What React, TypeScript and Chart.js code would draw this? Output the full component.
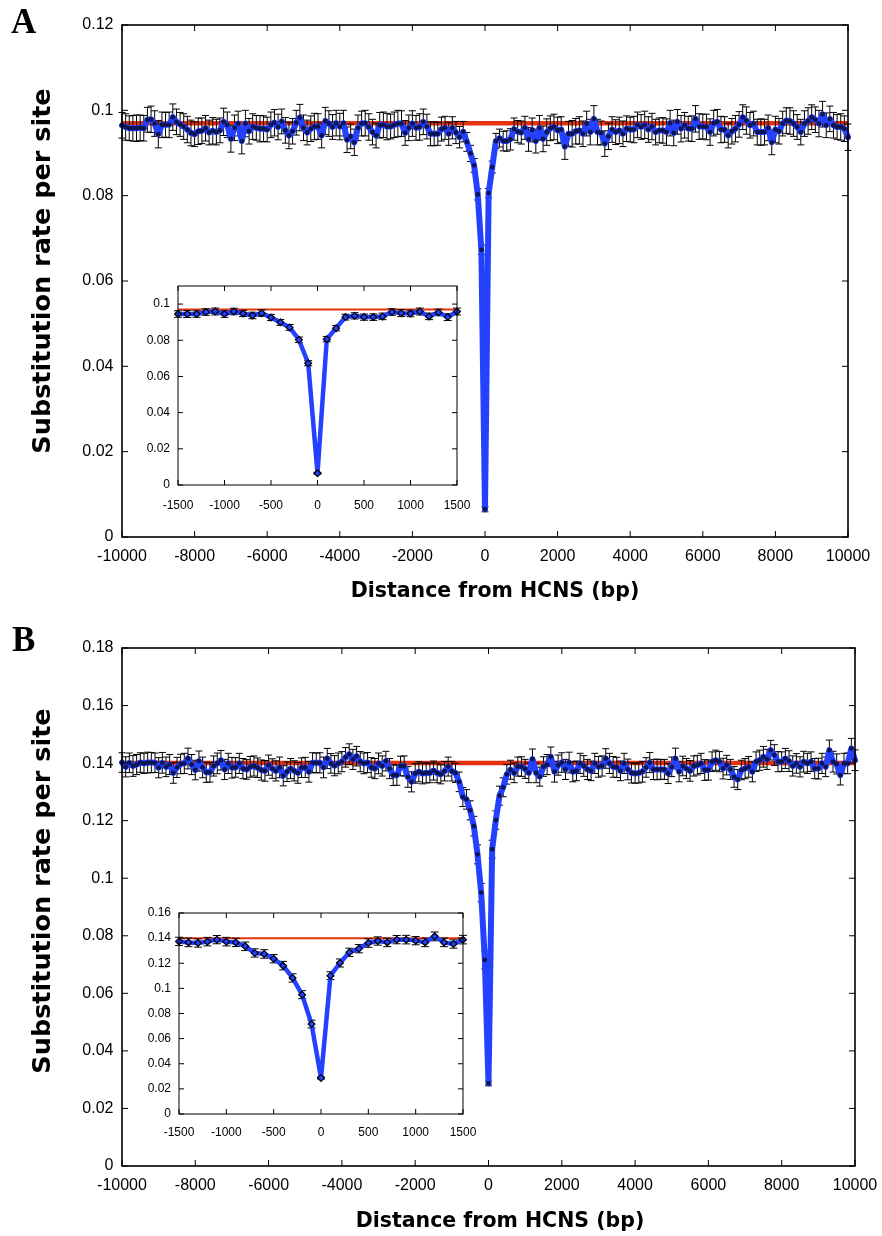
import React, { useEffect, useRef } from "react";
import { Chart, registerables } from "chart.js";

Chart.register(...registerables);

// ---------- DATA ----------
// distance from HCNS (bp), 100 bp windows
const distance: number[] = Array.from({ length: 201 }, (_, i) => -10000 + i * 100);

// Panel A: substitution rate per site
const rateA: number[] = [
  0.0965, 0.0961, 0.0958, 0.0958, 0.0958, 0.0959, 0.0958, 0.0978, 0.0979, 0.0969,
  0.0944, 0.0966, 0.0966, 0.0966, 0.0984, 0.0973, 0.0967, 0.0962, 0.0955, 0.0947,
  0.0944, 0.0951, 0.0952, 0.0958, 0.0948, 0.0952, 0.0949, 0.0953, 0.0973, 0.0966,
  0.0933, 0.0959, 0.0969, 0.0928, 0.0969, 0.0951, 0.0962, 0.0959, 0.0957, 0.0957,
  0.0955, 0.0966, 0.0971, 0.0961, 0.0974, 0.0953, 0.0941, 0.0951, 0.0971, 0.0983,
  0.0959, 0.0948, 0.0957, 0.0962, 0.0962, 0.0941, 0.0975, 0.0969, 0.0961, 0.0970,
  0.0962, 0.0970, 0.0931, 0.0939, 0.0925, 0.0959, 0.0969, 0.0970, 0.0961, 0.0949,
  0.0941, 0.0965, 0.0966, 0.0962, 0.0962, 0.0966, 0.0969, 0.0969, 0.0947, 0.0959,
  0.0969, 0.0959, 0.0961, 0.0973, 0.0962,
  0.0945, 0.0945, 0.0945, 0.0956, 0.0959, 0.0945, 0.0959, 0.0948, 0.0937, 0.0950,
  0.0926, 0.0899, 0.0871, 0.0803, 0.0673, 0.0065, 0.0806, 0.0867, 0.0928, 0.0935,
  0.0928, 0.0928, 0.0932, 0.0956, 0.0950, 0.0948, 0.0959, 0.0932, 0.0954, 0.0928,
  0.0959,
  0.0933, 0.0949, 0.0958, 0.0961, 0.0953, 0.0955, 0.0915, 0.0945, 0.0945, 0.0951,
  0.0953, 0.0945, 0.0969, 0.0949, 0.0980, 0.0949, 0.0947, 0.0922, 0.0939, 0.0955,
  0.0949, 0.0953, 0.0945, 0.0957, 0.0955, 0.0955, 0.0966, 0.0961, 0.0966, 0.0955,
  0.0962, 0.0949, 0.0953, 0.0953, 0.0949, 0.0970, 0.0947, 0.0973, 0.0957, 0.0965,
  0.0957, 0.0957, 0.0980, 0.0962, 0.0962, 0.0961, 0.0949, 0.0970, 0.0973, 0.0955,
  0.0955, 0.0941, 0.0951, 0.0957, 0.0967, 0.0984, 0.0976, 0.0965, 0.0969, 0.0949,
  0.0949, 0.0949, 0.0959, 0.0925, 0.0955, 0.0951, 0.0969, 0.0976, 0.0975, 0.0969,
  0.0961, 0.0949, 0.0969, 0.0975, 0.0984, 0.0978, 0.0969, 0.0991, 0.0965, 0.0980,
  0.0965, 0.0961, 0.0961, 0.0957, 0.0937,
];

const errA: number[] = [
  0.0030, 0.0031, 0.0029, 0.0030, 0.0031, 0.0030, 0.0030, 0.0029, 0.0031, 0.0030,
  0.0032, 0.0030, 0.0029, 0.0030, 0.0031, 0.0030, 0.0028, 0.0030, 0.0031, 0.0030,
  0.0029, 0.0031, 0.0030, 0.0030, 0.0029, 0.0031, 0.0030, 0.0029, 0.0032, 0.0030,
  0.0031, 0.0030, 0.0029, 0.0030, 0.0031, 0.0030, 0.0030, 0.0029, 0.0031, 0.0030,
  0.0029, 0.0030, 0.0031, 0.0030, 0.0029, 0.0030, 0.0031, 0.0030, 0.0029, 0.0031,
  0.0030, 0.0029, 0.0030, 0.0031, 0.0030, 0.0029, 0.0032, 0.0030, 0.0029, 0.0030,
  0.0031, 0.0030, 0.0030, 0.0029, 0.0031, 0.0030, 0.0029, 0.0030, 0.0031, 0.0030,
  0.0029, 0.0030, 0.0030, 0.0031, 0.0029, 0.0030, 0.0031, 0.0030, 0.0029, 0.0030,
  0.0030, 0.0029, 0.0031, 0.0030, 0.0029,
  0.0028, 0.0028, 0.0027, 0.0028, 0.0027, 0.0027, 0.0026, 0.0026, 0.0025, 0.0024,
  0.0022, 0.0019, 0.0016, 0.0013, 0.0011, 0.0006, 0.0011, 0.0014, 0.0018, 0.0021,
  0.0023, 0.0024, 0.0025, 0.0026, 0.0026, 0.0027, 0.0027, 0.0028, 0.0028, 0.0028,
  0.0029,
  0.0030, 0.0031, 0.0029, 0.0030, 0.0031, 0.0030, 0.0030, 0.0029, 0.0031, 0.0030,
  0.0032, 0.0030, 0.0029, 0.0030, 0.0031, 0.0030, 0.0028, 0.0030, 0.0031, 0.0030,
  0.0029, 0.0031, 0.0030, 0.0030, 0.0029, 0.0031, 0.0030, 0.0029, 0.0032, 0.0030,
  0.0031, 0.0030, 0.0029, 0.0030, 0.0031, 0.0030, 0.0030, 0.0029, 0.0031, 0.0030,
  0.0029, 0.0030, 0.0031, 0.0030, 0.0029, 0.0030, 0.0031, 0.0030, 0.0029, 0.0031,
  0.0030, 0.0029, 0.0030, 0.0031, 0.0030, 0.0029, 0.0032, 0.0030, 0.0029, 0.0030,
  0.0031, 0.0030, 0.0030, 0.0029, 0.0031, 0.0030, 0.0029, 0.0030, 0.0031, 0.0030,
  0.0029, 0.0030, 0.0030, 0.0031, 0.0029, 0.0030, 0.0031, 0.0030, 0.0029, 0.0030,
  0.0030, 0.0029, 0.0031, 0.0030, 0.0031,
];

// inset A error bars (-1500 .. 1500)
const errInsetA: number[] = [
  0.0018, 0.0019, 0.0018, 0.0018, 0.0019, 0.0018, 0.0018, 0.0017, 0.0018, 0.0018,
  0.0017, 0.0016, 0.0016, 0.0015, 0.0014, 0.0005, 0.0014, 0.0015, 0.0016, 0.0017,
  0.0017, 0.0018, 0.0018, 0.0018, 0.0019, 0.0018, 0.0019, 0.0018, 0.0018, 0.0019,
  0.0019,
];

const baselineA = 0.097;

// Panel B
const rateB: number[] = [
  0.1402, 0.1387, 0.1401, 0.1390, 0.1395, 0.1402, 0.1399, 0.1402, 0.1402, 0.1401,
  0.1384, 0.1401, 0.1387, 0.1395, 0.1366, 0.1385, 0.1397, 0.1399, 0.1416, 0.1395,
  0.1376, 0.1407, 0.1385, 0.1368, 0.1368, 0.1390, 0.1399, 0.1410, 0.1378, 0.1399,
  0.1384, 0.1385, 0.1399, 0.1381, 0.1378, 0.1387, 0.1390, 0.1384, 0.1376, 0.1373,
  0.1393, 0.1381, 0.1373, 0.1385, 0.1356, 0.1370, 0.1381, 0.1373, 0.1366, 0.1384,
  0.1385, 0.1370, 0.1401, 0.1401, 0.1401, 0.1385, 0.1416, 0.1399, 0.1391, 0.1399,
  0.1405, 0.1420, 0.1431, 0.1413, 0.1424, 0.1405, 0.1399, 0.1402, 0.1385, 0.1381,
  0.1399, 0.1390, 0.1407, 0.1381, 0.1358, 0.1358, 0.1390, 0.1390, 0.1352, 0.1335,
  0.1364, 0.1370, 0.1364, 0.1366, 0.1366,
  0.1374, 0.1366, 0.1361, 0.1372, 0.1388, 0.1372, 0.1366, 0.1335, 0.1282, 0.1274,
  0.1236, 0.1181, 0.1083, 0.0950, 0.0716, 0.0287, 0.1101, 0.1202, 0.1287, 0.1316,
  0.1361, 0.1377, 0.1366, 0.1388, 0.1388, 0.1380, 0.1366, 0.1414, 0.1366, 0.1353,
  0.1388,
  0.1395, 0.1422, 0.1370, 0.1393, 0.1402, 0.1378, 0.1402, 0.1370, 0.1373, 0.1399,
  0.1390, 0.1378, 0.1373, 0.1399, 0.1387, 0.1390, 0.1416, 0.1399, 0.1387, 0.1385,
  0.1373, 0.1399, 0.1378, 0.1366, 0.1364, 0.1366, 0.1370, 0.1385, 0.1402, 0.1378,
  0.1378, 0.1378, 0.1378, 0.1364, 0.1387, 0.1416, 0.1370, 0.1390, 0.1381, 0.1373,
  0.1390, 0.1393, 0.1399, 0.1376, 0.1376, 0.1405, 0.1410, 0.1405, 0.1381, 0.1393,
  0.1378, 0.1352, 0.1343, 0.1376, 0.1381, 0.1387, 0.1370, 0.1405, 0.1410, 0.1422,
  0.1413, 0.1445, 0.1428, 0.1405, 0.1405, 0.1416, 0.1407, 0.1390, 0.1399, 0.1387,
  0.1405, 0.1399, 0.1405, 0.1381, 0.1381, 0.1399, 0.1387, 0.1445, 0.1405, 0.1397,
  0.1358, 0.1399, 0.1399, 0.1451, 0.1410,
];

const errB: number[] = [
  0.0034, 0.0035, 0.0034, 0.0036, 0.0035, 0.0034, 0.0035, 0.0036, 0.0035, 0.0034,
  0.0035, 0.0036, 0.0034, 0.0035, 0.0036, 0.0035, 0.0034, 0.0035, 0.0036, 0.0035,
  0.0034, 0.0035, 0.0036, 0.0035, 0.0034, 0.0035, 0.0036, 0.0034, 0.0035, 0.0035,
  0.0036, 0.0034, 0.0035, 0.0035, 0.0034, 0.0036, 0.0035, 0.0034, 0.0035, 0.0036,
  0.0035, 0.0034, 0.0035, 0.0036, 0.0035, 0.0034, 0.0035, 0.0035, 0.0036, 0.0034,
  0.0035, 0.0036, 0.0035, 0.0034, 0.0035, 0.0036, 0.0035, 0.0034, 0.0035, 0.0036,
  0.0035, 0.0034, 0.0036, 0.0035, 0.0034, 0.0035, 0.0036, 0.0035, 0.0034, 0.0035,
  0.0036, 0.0035, 0.0034, 0.0035, 0.0036, 0.0035, 0.0034, 0.0035, 0.0036, 0.0035,
  0.0034, 0.0035, 0.0036, 0.0035, 0.0034,
  0.0033, 0.0034, 0.0033, 0.0034, 0.0033, 0.0034, 0.0033, 0.0034, 0.0033, 0.0034,
  0.0033, 0.0034, 0.0033, 0.0032, 0.0031, 0.0008, 0.0031, 0.0032, 0.0033, 0.0033,
  0.0034, 0.0033, 0.0034, 0.0033, 0.0034, 0.0033, 0.0034, 0.0035, 0.0034, 0.0033,
  0.0034,
  0.0035, 0.0034, 0.0036, 0.0035, 0.0034, 0.0035, 0.0036, 0.0035, 0.0034, 0.0035,
  0.0036, 0.0035, 0.0034, 0.0035, 0.0036, 0.0035, 0.0034, 0.0035, 0.0036, 0.0035,
  0.0034, 0.0035, 0.0036, 0.0035, 0.0034, 0.0035, 0.0036, 0.0034, 0.0035, 0.0035,
  0.0036, 0.0034, 0.0035, 0.0035, 0.0034, 0.0036, 0.0035, 0.0034, 0.0035, 0.0036,
  0.0035, 0.0034, 0.0035, 0.0036, 0.0035, 0.0034, 0.0035, 0.0035, 0.0036, 0.0034,
  0.0035, 0.0036, 0.0035, 0.0034, 0.0035, 0.0036, 0.0035, 0.0034, 0.0035, 0.0036,
  0.0035, 0.0034, 0.0036, 0.0035, 0.0034, 0.0035, 0.0036, 0.0035, 0.0034, 0.0035,
  0.0036, 0.0035, 0.0034, 0.0035, 0.0036, 0.0035, 0.0034, 0.0035, 0.0036, 0.0035,
  0.0034, 0.0035, 0.0036, 0.0035, 0.0036,
];

const baselineB = 0.14;

// inset window: -1500 .. 1500 (indices 85..115)
const insetStart = 85;
const insetEnd = 116;

const xTitle = "Distance from HCNS (bp)";
const yTitle = "Substitution rate per site";

// ---------- STYLE ----------
const BLUE = "#2441ff";
const RED = "#e4320e";
const DOT = "#0d1650";
const TICK_FONT = "'Liberation Sans', Arial, sans-serif";
const TITLE_FONT = "'DejaVu Sans', Verdana, sans-serif";

// ---------- PLUGINS ----------
const errorBarPlugin = {
  id: "errorBars",
  beforeDatasetDraw(chart: any, args: any, opts: any) {
    const ds = chart.data.datasets[args.index];
    if (!ds.errors) return;
    const { ctx, scales } = chart;
    const cap = opts.cap ?? 3.5;
    ctx.save();
    ctx.strokeStyle = "#000";
    ctx.lineWidth = opts.lineWidth ?? 1;
    ctx.beginPath();
    ds.data.forEach((pt: any, i: number) => {
      const e = ds.errors[i];
      const px = scales.x.getPixelForValue(pt.x);
      const top = scales.y.getPixelForValue(pt.y + e);
      const bot = scales.y.getPixelForValue(pt.y - e);
      ctx.moveTo(px, top);
      ctx.lineTo(px, bot);
      ctx.moveTo(px - cap, top);
      ctx.lineTo(px + cap, top);
      ctx.moveTo(px - cap, bot);
      ctx.lineTo(px + cap, bot);
    });
    ctx.stroke();
    ctx.restore();
  },
};

const framePlugin = {
  id: "frame",
  afterDraw(chart: any, _args: any, opts: any) {
    const { ctx, chartArea: a, scales } = chart;
    const len = opts.tickLen ?? 6;
    ctx.save();
    ctx.strokeStyle = "#000";
    ctx.lineWidth = opts.lineWidth ?? 1.5;
    ctx.strokeRect(a.left, a.top, a.right - a.left, a.bottom - a.top);
    ctx.lineWidth = opts.tickWidth ?? 1;
    ctx.beginPath();
    for (const t of scales.x.ticks) {
      const px = scales.x.getPixelForValue(t.value);
      ctx.moveTo(px, a.bottom);
      ctx.lineTo(px, a.bottom - len);
      ctx.moveTo(px, a.top);
      ctx.lineTo(px, a.top + len);
    }
    for (const t of scales.y.ticks) {
      const py = scales.y.getPixelForValue(t.value);
      ctx.moveTo(a.left, py);
      ctx.lineTo(a.left + len, py);
      ctx.moveTo(a.right, py);
      ctx.lineTo(a.right - len, py);
    }
    ctx.stroke();
    ctx.restore();
  },
};

type PlotSpec = {
  xs: number[];
  ys: number[];
  errs: number[];
  baseline: number;
  xMin: number;
  xMax: number;
  xStep: number;
  yMax: number;
  yStep: number;
  inset: boolean;
  pad: { top: number; right: number };
  yWidth: number;
  xHeight: number;
  xPad: number;
  yPad: number;
};

function buildConfig(s: PlotSpec): any {
  const fontSize = s.inset ? 12 : 16;
  return {
    type: "line",
    data: {
      datasets: [
        {
          label: "rate",
          data: s.xs.map((x, i) => ({ x, y: s.ys[i] })),
          errors: s.errs,
          borderColor: BLUE,
          borderWidth: s.inset ? 4.5 : 6,
          borderJoinStyle: "round",
          borderCapStyle: "round",
          tension: 0,
          pointStyle: s.inset ? "rectRot" : "circle",
          pointRadius: s.inset ? 3.4 : 2.4,
          pointBackgroundColor: s.inset ? BLUE : DOT,
          pointBorderColor: s.inset ? "#000" : DOT,
          pointBorderWidth: s.inset ? 1.2 : 0,
          order: 1,
          clip: false,
        },
        {
          label: "mean",
          data: [
            { x: s.xMin, y: s.baseline },
            { x: s.xMax, y: s.baseline },
          ],
          borderColor: RED,
          borderWidth: s.inset ? 2 : 4.5,
          pointRadius: 0,
          order: 2,
        },
      ],
    },
    options: {
      responsive: false,
      animation: false,
      events: [],
      layout: { padding: { left: 0, top: s.pad.top, right: s.pad.right, bottom: 0 } },
      plugins: {
        legend: { display: false },
        tooltip: { enabled: false },
        errorBars: { cap: s.inset ? 4 : 3.5, lineWidth: 1 },
        frame: { tickLen: s.inset ? 5 : 6, lineWidth: s.inset ? 1 : 1.6, tickWidth: 1 },
      },
      scales: {
        x: {
          type: "linear",
          min: s.xMin,
          max: s.xMax,
          grid: { display: false, drawTicks: false },
          border: { display: false },
          afterFit: (scale: any) => {
            scale.height = s.xHeight;
            scale.paddingLeft = 0;
            scale.paddingRight = 0;
          },
          ticks: {
            stepSize: s.xStep,
            includeBounds: false,
            autoSkip: false,
            maxRotation: 0,
            padding: s.xPad,
            color: "#000",
            font: { family: TICK_FONT, size: fontSize },
            callback: (v: any) => String(v),
          },
        },
        y: {
          type: "linear",
          min: 0,
          max: s.yMax,
          grid: { display: false, drawTicks: false },
          border: { display: false },
          afterFit: (scale: any) => {
            scale.width = s.yWidth;
            scale.paddingTop = 0;
            scale.paddingBottom = 0;
          },
          ticks: {
            stepSize: s.yStep,
            includeBounds: false,
            padding: s.yPad,
            color: "#000",
            font: { family: TICK_FONT, size: fontSize },
            callback: (v: any) => String(Math.round(v * 1000) / 1000),
          },
        },
      },
    },
    plugins: [errorBarPlugin, framePlugin],
  };
}

function ChartCanvas(props: { spec: PlotSpec; left: number; top: number; width: number; height: number }) {
  const ref = useRef<HTMLCanvasElement | null>(null);
  useEffect(() => {
    if (!ref.current) return;
    const chart = new Chart(ref.current, buildConfig(props.spec));
    return () => chart.destroy();
  }, []);
  return (
    <canvas
      ref={ref}
      width={props.width}
      height={props.height}
      style={{
        position: "absolute",
        left: props.left,
        top: props.top,
        width: props.width,
        height: props.height,
      }}
    />
  );
}

const letterStyle: React.CSSProperties = {
  position: "absolute",
  fontFamily: "'Liberation Serif', 'Times New Roman', serif",
  fontWeight: "bold",
  fontSize: 35,
  lineHeight: "35px",
  color: "#000",
};

const xTitleStyle: React.CSSProperties = {
  position: "absolute",
  fontFamily: TITLE_FONT,
  fontWeight: "bold",
  fontSize: 20.5,
  lineHeight: "24px",
  color: "#000",
  whiteSpace: "nowrap",
  transform: "translate(-50%, -50%)",
};

const yTitleStyle: React.CSSProperties = {
  position: "absolute",
  fontFamily: TITLE_FONT,
  fontWeight: "bold",
  fontSize: 25.5,
  lineHeight: "28px",
  color: "#000",
  whiteSpace: "nowrap",
  transform: "translate(-50%, -50%) rotate(-90deg)",
};

export default function App() {
  const xsIn = distance.slice(insetStart, insetEnd);

  const mainA: PlotSpec = {
    xs: distance, ys: rateA, errs: errA, baseline: baselineA,
    xMin: -10000, xMax: 10000, xStep: 2000, yMax: 0.12, yStep: 0.02, inset: false,
    pad: { top: 25, right: 34 }, yWidth: 122, xHeight: 78, xPad: 9.5, yPad: 8.5,
  };
  const insetA: PlotSpec = {
    xs: xsIn, ys: rateA.slice(insetStart, insetEnd), errs: errInsetA, baseline: baselineA,
    xMin: -1500, xMax: 1500, xStep: 500, yMax: 0.11, yStep: 0.02, inset: true,
    pad: { top: 16, right: 23 }, yWidth: 38, xHeight: 35, xPad: 13, yPad: 8,
  };
  const mainB: PlotSpec = {
    xs: distance, ys: rateB, errs: errB, baseline: baselineB,
    xMin: -10000, xMax: 10000, xStep: 2000, yMax: 0.18, yStep: 0.02, inset: false,
    pad: { top: 33, right: 27 }, yWidth: 122, xHeight: 70, xPad: 10, yPad: 8.5,
  };
  const insetB: PlotSpec = {
    xs: xsIn, ys: rateB.slice(insetStart, insetEnd), errs: errB.slice(insetStart, insetEnd), baseline: baselineB,
    xMin: -1500, xMax: 1500, xStep: 500, yMax: 0.16, yStep: 0.02, inset: true,
    pad: { top: 18, right: 22 }, yWidth: 39, xHeight: 31, xPad: 11, yPad: 8,
  };

  return (
    <div style={{ position: "absolute", left: 0, top: 0, width: 882, height: 1236, overflow: "hidden", background: "#fff" }}>
      <ChartCanvas spec={mainA} left={0} top={0} width={882} height={615} />
      <ChartCanvas spec={insetA} left={140} top={270} width={340} height={250} />
      <ChartCanvas spec={mainB} left={0} top={615} width={882} height={621} />
      <ChartCanvas spec={insetB} left={140} top={895} width={345} height={250} />

      <div style={{ ...letterStyle, left: 11, top: 4 }}>A</div>
      <div style={{ ...letterStyle, left: 12, top: 622 }}>B</div>

      <div style={{ ...yTitleStyle, left: 41, top: 271 }}>{yTitle}</div>
      <div style={{ ...yTitleStyle, left: 41, top: 891 }}>{yTitle}</div>

      <div style={{ ...xTitleStyle, left: 495, top: 590 }}>{xTitle}</div>
      <div style={{ ...xTitleStyle, left: 500, top: 1220 }}>{xTitle}</div>
    </div>
  );
}
